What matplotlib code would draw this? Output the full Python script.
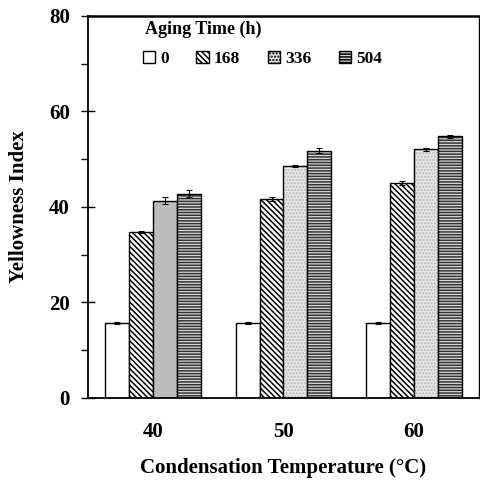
import matplotlib

matplotlib.use("Agg")
import matplotlib.pyplot as plt
import numpy as np
from matplotlib.patches import Patch
from matplotlib.ticker import MultipleLocator

plt.rcParams["font.family"] = ["Liberation Serif", "DejaVu Serif"]
plt.rcParams["font.weight"] = "bold"
plt.rcParams["hatch.linewidth"] = 1.1

temps = ["40", "50", "60"]
aging_times = ["0", "168", "336", "504"]
yi_0 = [15.7, 15.7, 15.7]
yi_168 = [34.7, 41.7, 45.0]
yi_336 = [41.3, 48.5, 52.1]
yi_504 = [42.8, 51.8, 54.8]
err_0 = [0.3, 0.3, 0.3]
err_168 = [0.2, 0.4, 0.4]
err_336 = [0.7, 0.2, 0.3]
err_504 = [0.8, 0.6, 0.3]

series = [yi_0, yi_168, yi_336, yi_504]
errors = [err_0, err_168, err_336, err_504]
# (face, hatch, hatch colour) per aging time; 336 h at 40 °C is a darker grey
styles = [
    ("white", "", "black"),
    ("white", "\\" * 6, "black"),
    ("#e6e6e6", ".....", "#bdbdbd"),
    ("#d8d8d8", "------", "#333333"),
]
style_336_40 = ("#bcbcbc", "", "#bcbcbc")

fig = plt.figure(figsize=(4.8, 4.8), dpi=100)
ax = fig.add_axes([0.183, 0.171, 0.815, 0.796])

x = np.arange(len(temps))
width = 0.183
for i, (vals, errs) in enumerate(zip(series, errors)):
    pos = x + (i - 1.5) * width
    for j in range(len(temps)):
        face, hatch, hcol = styles[i]
        if i == 2 and j == 0:
            face, hatch, hcol = style_336_40
        ax.bar(pos[j], vals[j], width, color=face, hatch=hatch, edgecolor=hcol, linewidth=0)
    ax.bar(pos, vals, width, fill=False, edgecolor="black", linewidth=1.0)
    ax.errorbar(pos, vals, yerr=errs, fmt="none", ecolor="black", elinewidth=0.8, capsize=2.5, capthick=0.8)

ax.set_xlim(-0.5, 2.5)
ax.set_ylim(0, 80)
ax.set_xticks(x)
ax.set_xticklabels(temps)
ax.yaxis.set_major_locator(MultipleLocator(20))
ax.yaxis.set_minor_locator(MultipleLocator(10))
ax.tick_params(axis="x", length=0, pad=17, labelsize=15)
ax.tick_params(axis="y", which="major", direction="inout", length=10, width=1.0, pad=8, labelsize=15)
ax.tick_params(axis="y", which="minor", direction="out", length=5, width=1.0)
for s in ax.spines.values():
    s.set_linewidth(1.0)
ax.spines["left"].set_linewidth(1.3)
ax.spines["bottom"].set_linewidth(1.3)
ax.spines["top"].set_linewidth(1.8)

ax.set_xlabel("Condensation Temperature (°C)", fontsize=15, fontweight="bold", labelpad=12)
ax.set_ylabel("Yellowness Index", fontsize=15, fontweight="bold", labelpad=14)

handles = []
for i, (face, hatch, hcol) in enumerate(styles):
    handles.append(Patch(facecolor=face, hatch=hatch, edgecolor="black", linewidth=1.0))
ax.text(0.145, 0.965, "Aging Time (h)", transform=ax.transAxes, fontsize=13,
        fontweight="bold", ha="left", va="center")
ax.legend(
    handles,
    aging_times,
    ncol=4,
    frameon=False,
    loc="center left",
    bbox_to_anchor=(0.1, 0.888),
    handlelength=0.7,
    handleheight=0.7,
    handletextpad=0.3,
    columnspacing=1.6,
    prop={"size": 12.5, "weight": "bold"},
)

fig.savefig("out.png", dpi=100)
